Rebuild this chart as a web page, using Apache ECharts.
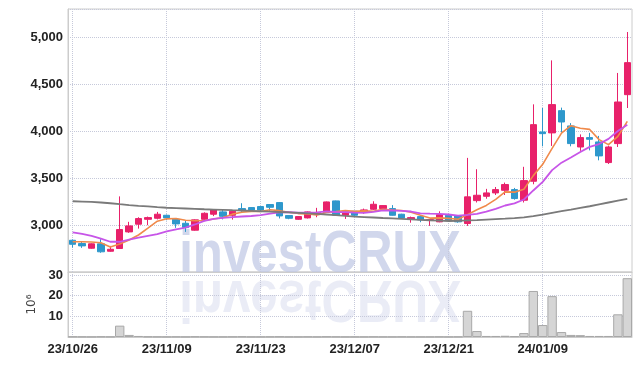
<!DOCTYPE html>
<html><head><meta charset="utf-8">
<script src="https://cdn.jsdelivr.net/npm/echarts@6/dist/echarts.min.js"></script>
<style>html,body{margin:0;padding:0;background:#fff}#c{width:642px;height:366px}</style>
</head><body><div id="c"></div>
<script>
const dates = ['23/10/26','23/10/27','23/10/30','23/10/31','23/11/01','23/11/02','23/11/03','23/11/06','23/11/07','23/11/08',
'23/11/09','23/11/10','23/11/13','23/11/14','23/11/15','23/11/16','23/11/17','23/11/20','23/11/21','23/11/22',
'23/11/23','23/11/24','23/11/27','23/11/28','23/11/29','23/11/30','23/12/01','23/12/04','23/12/05','23/12/06',
'23/12/07','23/12/08','23/12/11','23/12/12','23/12/13','23/12/14','23/12/15','23/12/18','23/12/19','23/12/20',
'23/12/21','23/12/22','23/12/26','23/12/27','23/12/28','24/01/02','24/01/03','24/01/04','24/01/05','24/01/08',
'24/01/09','24/01/10','24/01/11','24/01/12','24/01/15','24/01/16','24/01/17','24/01/18','24/01/19','24/01/22'];
const opens = [2838,2803,2753,2800,2721,2750,2927,3009,3061,3072, 3104,3061,3019,2945,3061,3115,3140,3104,3175,3186, 3197,3218,3239,3101,3061,3076,3111,3133,3257,3104, 3147,3140,3168,3175,3175,3115,3061,3090,3048,3034, 3104,3097,3016,3260,3306,3342,3370,3377,3264,3466, 3991,3981,4218,4055,3831,3931,3885,3665,3867,4388];
const closes = [2795,2778,2800,2715,2742,2952,2991,3069,3079,3115, 3076,3012,2973,3055,3125,3161,3093,3147,3157,3161, 3161,3189,3097,3072,3090,3140,3133,3246,3104,3140, 3104,3161,3221,3207,3104,3076,3079,3055,3058,3111, 3051,3034,3300,3317,3342,3377,3431,3282,3473,4069, 3973,4282,4097,3867,3931,3913,3736,3831,4310,4729];
const lows = [2760,2757,2748,2705,2716,2745,2917,2962,2998,3060, 3051,2970,2927,2940,3050,3095,3060,3058,3140,3140, 3140,3140,3070,3062,3055,3070,3083,3128,3100,3065, 3095,3120,3160,3150,3100,3070,3025,3030,2991,3030, 3040,3025,2991,3240,3280,3320,3320,3270,3240,3434, 3838,3842,3985,3838,3790,3795,3689,3650,3831,4246];
const highs = [2845,2821,2805,2849,2778,3305,3034,3083,3090,3140, 3111,3065,3048,3060,3135,3165,3160,3150,3232,3190, 3200,3220,3245,3105,3095,3145,3183,3250,3260,3145, 3150,3175,3253,3210,3212,3120,3090,3095,3062,3146, 3110,3100,3715,3594,3385,3405,3452,3395,3620,4285, 4246,4753,4250,4085,3965,3981,3949,3845,4619,5055];
const ma5 = [2822,2822,2820,2812,2766,2797,2840,2894,2967,3041, 3066,3070,3051,3046,3048,3065,3081,3116,3137,3144, 3144,3163,3153,3136,3122,3118,3106,3136,3143,3153, 3145,3151,3146,3167,3159,3154,3137,3104,3074,3076, 3071,3062,3111,3163,3209,3274,3353,3350,3381,3526, 3646,3816,3979,4058,4030,4018,3909,3856,3944,4104];
const ma10 = [2923,2905,2885,2855,2822,2822,2845,2865,2885,2904, 2932,2955,2972,3006,3045,3066,3076,3084,3091,3096, 3105,3122,3135,3136,3133,3131,3135,3145,3139,3137, 3132,3129,3141,3155,3156,3150,3144,3125,3121,3118, 3112,3100,3108,3119,3142,3172,3208,3230,3272,3368, 3460,3585,3664,3719,3778,3832,3862,3917,4001,4067];
const maLong = [3253,3250,3246,3240,3232,3222,3213,3205,3198,3190, 3184,3180,3176,3172,3168,3165,3162,3158,3155,3151, 3147,3143,3139,3135,3130,3125,3118,3112,3105,3097, 3090,3085,3080,3075,3071,3066,3061,3056,3051,3047, 3043,3045,3049,3053,3058,3063,3068,3074,3082,3096, 3112,3130,3147,3164,3182,3200,3220,3240,3260,3279];
const volumes = [0.2,0.15,0.1,0.2,0.15, 5.5,1.0,0.5,0.2,0.15, 0.1,0.15,0.1,0.2,0.15, 0.1,0.1,0.15,0.2,0.1, 0.1,0.15,0.2,0.1,0.1, 0.15,0.1,0.2,0.15,0.1, 0.1,0.1,0.15,0.1,0.1, 0.15,0.1,0.1,0.1,0.15, 0.1,0.15,12.7,2.9,0.5, 0.5,0.6,0.4,1.9,22.3, 5.8,19.8,2.4,1.0,0.9, 0.5,0.5,0.5,11.0,28.5];

const candleData = opens.map((o, i) => [o, closes[i], lows[i], highs[i]]);
function commas(v){ return String(v).replace(/\B(?=(\d{3})+(?!\d))/g, ','); }
const labelFont = { fontFamily: '"Liberation Sans",Arial,sans-serif', fontWeight: 'bold', fontSize: 13, color: '#222' };
const splitDot = { show: true, lineStyle: { color: '#c6c9da', type: 'dotted', width: 1 } };
const axisLineGray = { show: true, lineStyle: { color: '#cccccc' } };

const chart = echarts.init(document.getElementById('c'), null, { renderer: 'canvas' });
chart.setOption({
  animation: false,
  backgroundColor: '#ffffff',
  grid: [
    { left: 68, right: 10, top: 9, height: 263, show: true, borderColor: '#cccccc', borderWidth: 1 },
    { left: 68, right: 10, top: 272, height: 65, show: true, borderColor: '#cccccc', borderWidth: 1 }
  ],
  graphic: [
    { type: 'text', x: 320, y: 255, scaleX: 0.82, silent: true, z: 0,
      style: { text: 'investCRUX', x: 0, y: 0, textAlign: 'center', textVerticalAlign: 'middle',
        font: 'bold 60px "Liberation Sans", sans-serif', fill: 'rgba(190,198,228,0.7)' } },
    { type: 'text', x: 320, y: 298, scaleX: 0.82, scaleY: -1, silent: true, z: 0,
      style: { text: 'investCRUX', x: 0, y: 0, textAlign: 'center', textVerticalAlign: 'middle',
        font: 'bold 60px "Liberation Sans", sans-serif', fill: 'rgba(190,198,228,0.33)' } }
  ],
  xAxis: [
    { type: 'category', gridIndex: 0, data: dates, boundaryGap: true,
      axisLine: axisLineGray, axisTick: { show: false }, axisLabel: { show: false },
      splitLine: Object.assign({ interval: 9, alignWithLabel: true }, splitDot) },
    { type: 'category', gridIndex: 1, data: dates, boundaryGap: true,
      axisLine: axisLineGray, axisTick: { show: false },
      axisLabel: Object.assign({ interval: 9, margin: 6 }, labelFont),
      splitLine: Object.assign({ interval: 9, alignWithLabel: true }, splitDot) }
  ],
  yAxis: [
    { type: 'value', gridIndex: 0, min: 2500, max: 5300, interval: 500, scale: true,
      axisLine: axisLineGray, axisTick: { show: false },
      axisLabel: Object.assign({ margin: 5, formatter: v => (v % 500 === 0 && v >= 3000 && v <= 5000) ? commas(v) : '' }, labelFont),
      splitLine: splitDot },
    { type: 'value', gridIndex: 1, min: 0, max: 31.5, interval: 10,
      name: '10\u2076', nameLocation: 'middle', nameRotate: 90, nameGap: 26,
      nameTextStyle: { fontFamily: '"DejaVu Sans",sans-serif', fontSize: 12, color: '#444' },
      axisLine: axisLineGray, axisTick: { show: false },
      axisLabel: Object.assign({ margin: 5, formatter: v => (v > 0 && v % 10 === 0) ? String(v) : '' }, labelFont),
      splitLine: splitDot }
  ],
  series: [
    { type: 'candlestick', xAxisIndex: 0, yAxisIndex: 0, data: candleData, barWidth: 7,
      itemStyle: { color: '#e8216a', color0: '#2e98cc', borderColor: '#e8216a', borderColor0: '#2e98cc', borderWidth: 1 } },
    { type: 'line', name: 'MA5', xAxisIndex: 0, yAxisIndex: 0, data: ma5, showSymbol: false, z: 3,
      lineStyle: { color: '#f08a4b', width: 1.6 } },
    { type: 'line', name: 'MA10', xAxisIndex: 0, yAxisIndex: 0, data: ma10, showSymbol: false, z: 3,
      lineStyle: { color: '#c755e8', width: 1.8 } },
    { type: 'line', name: 'MA long', xAxisIndex: 0, yAxisIndex: 0, data: maLong, showSymbol: false, z: 3,
      lineStyle: { color: '#7a7a7a', width: 1.8 } },
    { type: 'bar', xAxisIndex: 1, yAxisIndex: 1, data: volumes, barCategoryGap: '0%',
      itemStyle: { color: '#d5d5d5', borderColor: '#a8a8a8', borderWidth: 1 } }
  ]
});
</script>
</body></html>
